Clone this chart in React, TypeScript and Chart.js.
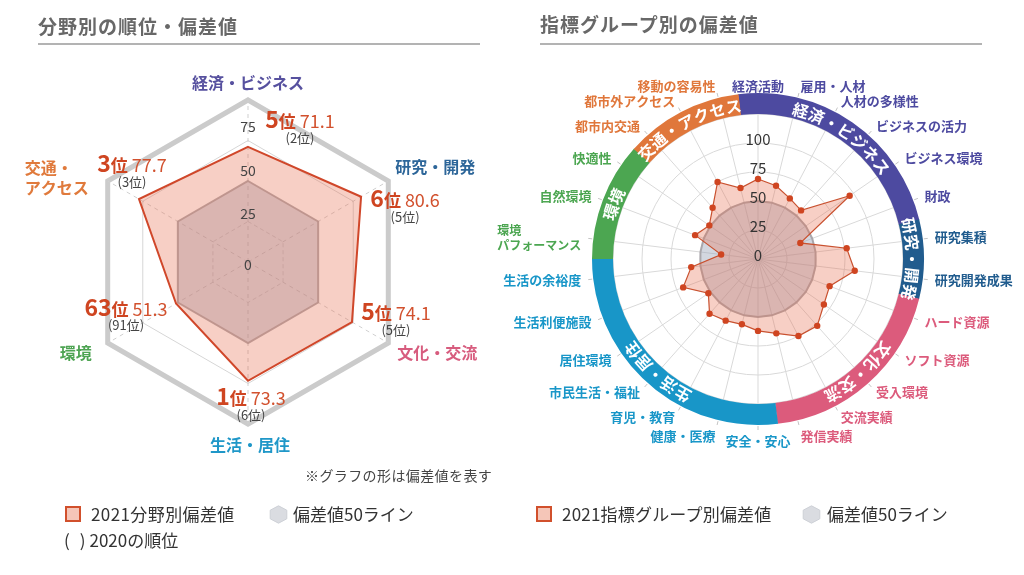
import React, { useEffect, useRef } from 'react';
import { Chart, registerables } from 'chart.js';

Chart.register(...registerables);

const FONT = '"Noto Sans CJK JP", "Noto Sans", sans-serif';

// ---------- Left chart: 分野別 ----------
const fieldCategories = ['経済・ビジネス', '研究・開発', '文化・交流', '生活・居住', '環境', '交通・アクセス'];
const fieldCategoryLines = [['経済・ビジネス'], ['研究・開発'], ['文化・交流'], ['生活・居住'], ['環境'], ['交通・', 'アクセス']];
const fieldValues2021 = [71.1, 80.6, 74.1, 73.3, 51.3, 77.7];
const fieldRanks2021 = [5, 6, 5, 1, 63, 3];
const fieldRanks2020 = [2, 5, 5, 6, 91, 3];
const fieldBaseline50 = [50, 50, 50, 50, 50, 50];
const fieldTickLabels = [0, 25, 50, 75];
const fieldLabelColors = ['#57519f', '#2d6699', '#d75c7e', '#1f97c8', '#4ea453', '#e07a3c'];

// ---------- Right chart: 指標グループ別 ----------
const indicatorLabels = [
  '経済活動', '雇用・人材', '人材の多様性', 'ビジネスの活力', 'ビジネス環境', '財政',
  '研究集積', '研究開発成果',
  'ハード資源', 'ソフト資源', '受入環境', '交流実績', '発信実績',
  '安全・安心', '健康・医療', '育児・教育', '市民生活・福祉', '居住環境', '生活利便施設', '生活の余裕度',
  '環境\nパフォーマンス', '自然環境', '快適性',
  '都市内交通', '都市外アクセス', '移動の容易性',
];
const indicatorValues2021 = [69, 65, 59, 56, 96, 39, 77, 84, 66, 69, 77, 75, 66, 62, 58, 60, 63, 52, 69, 58, 32, 58, 51, 59, 75, 63];
const indicatorBaseline50 = [50, 50, 50, 50, 50, 50, 50, 50, 50, 50, 50, 50, 50, 50, 50, 50, 50, 50, 50, 50, 50, 50, 50, 50, 50, 50];
const indicatorTickLabels = [0, 25, 50, 75, 100];
const groupNames = ['経済・ビジネス', '研究・開発', '文化・交流', '生活・居住', '環境', '交通・アクセス'];
const groupFirstIndex = [0, 6, 8, 13, 20, 23];
const groupLastIndex = [5, 7, 12, 19, 22, 25];
const groupColors = ['#4d4aa0', '#215c8e', '#dc5b7c', '#1896c8', '#4ca651', '#e0773b'];

const SALMON_FILL = 'rgba(232,108,80,0.33)';
const GREY_FILL = 'rgba(150,160,182,0.42)';
const GREY_BORDER = 'rgba(165,162,166,0.9)';
const RED = '#cf4521';

// layout offsets (pixels) for left annotations
const fieldLabelOffsets = [[0, -17], [47, -14], [49, 10], [2, 21], [-32, 10], [-83, -13]];
const rankOffsets = [[52, -27], [44, 2], [44, -10], [3, 16], [-50, 4], [-7, -35]];
const fieldTickLift = [-3, 8, 10, 14];

const leftOverlay = {
  id: 'leftOverlay',
  afterDatasetsDraw(chart: any) {
    const ctx = chart.ctx as CanvasRenderingContext2D;
    const r = chart.scales.r;
    const cx = r.xCenter;
    const cy = r.yCenter;
    ctx.save();
    ctx.font = `14px ${FONT}`;
    ctx.fillStyle = '#444';
    ctx.textAlign = 'center';
    ctx.textBaseline = 'middle';
    fieldTickLabels.forEach((v, k) => {
      const d = r.getDistanceFromCenterForValue(v);
      ctx.fillText(String(v), cx, cy - d - fieldTickLift[k]);
    });
    ctx.font = `bold 16px ${FONT}`;
    fieldCategories.forEach((_, i) => {
      const p = r.getPointPosition(i, r.drawingArea);
      const [dx, dy] = fieldLabelOffsets[i];
      ctx.fillStyle = fieldLabelColors[i];
      const lines = fieldCategoryLines[i];
      if (lines.length === 1) {
        ctx.textAlign = 'center';
        ctx.fillText(lines[0], p.x + dx, p.y + dy);
      } else {
        ctx.textAlign = 'left';
        lines.forEach((ln, k) => ctx.fillText(ln, p.x + dx, p.y + dy + k * 20));
      }
    });
    fieldValues2021.forEach((v, i) => {
      const p = r.getPointPositionForValue(i, v);
      const mx = p.x + rankOffsets[i][0];
      const my = p.y + rankOffsets[i][1];
      const t1 = String(fieldRanks2021[i]);
      const t2 = '位';
      const t3 = v.toFixed(1);
      const f1 = `bold 23px ${FONT}`;
      const f2 = `bold 17px ${FONT}`;
      const f3 = `18px ${FONT}`;
      ctx.font = f1; const w1 = ctx.measureText(t1).width;
      ctx.font = f2; const w2 = ctx.measureText(t2).width;
      ctx.font = f3; const w3 = ctx.measureText(t3).width;
      const gap = 4;
      let x = mx - (w1 + w2 + gap + w3) / 2;
      const base = my + 8;
      ctx.textAlign = 'left';
      ctx.textBaseline = 'alphabetic';
      ctx.fillStyle = RED;
      ctx.font = f1; ctx.fillText(t1, x, base); x += w1;
      ctx.font = f2; ctx.fillText(t2, x, base); x += w2 + gap;
      ctx.fillStyle = '#d2512e';
      ctx.font = f3; ctx.fillText(t3, x, base);
      ctx.textAlign = 'center';
      ctx.textBaseline = 'middle';
      ctx.fillStyle = '#444';
      ctx.font = `13px ${FONT}`;
      ctx.fillText(`(${fieldRanks2020[i]}位)`, mx, my + 18);
    });
    ctx.restore();
  },
};

const groupOf = (i: number) => groupFirstIndex.findIndex((f, k) => i >= f && i <= groupLastIndex[k]);

const rightOverlay = {
  id: 'rightOverlay',
  afterDatasetsDraw(chart: any) {
    const ctx = chart.ctx as CanvasRenderingContext2D;
    const r = chart.scales.r;
    const cx = r.xCenter;
    const cy = r.yCenter;
    const da = r.drawingArea;
    const n = indicatorLabels.length;
    const step = (Math.PI * 2) / n;
    const bandW = 21;
    const rb = da + bandW / 2;
    ctx.save();
    groupNames.forEach((name, k) => {
      const a0 = groupFirstIndex[k] * step - step / 2;
      const a1 = groupLastIndex[k] * step + step / 2;
      ctx.beginPath();
      ctx.lineWidth = bandW;
      ctx.strokeStyle = groupColors[k];
      ctx.arc(cx, cy, rb, a0 - Math.PI / 2, a1 - Math.PI / 2 + 0.003);
      ctx.stroke();
    });
    ctx.font = `bold 16px ${FONT}`;
    ctx.fillStyle = '#ffffff';
    ctx.textAlign = 'center';
    ctx.textBaseline = 'middle';
    groupNames.forEach((name, k) => {
      const a0 = groupFirstIndex[k] * step - step / 2;
      const a1 = groupLastIndex[k] * step + step / 2;
      const mid = (a0 + a1) / 2;
      const chars = Array.from(name);
      const spacing = 0.8;
      const widths = chars.map((c) => ctx.measureText(c).width + spacing);
      const total = widths.reduce((s, w) => s + w, 0);
      let acc = 0;
      const start = mid - total / 2 / rb;
      chars.forEach((c, j) => {
        const a = start + (acc + widths[j] / 2) / rb;
        acc += widths[j];
        ctx.save();
        ctx.translate(cx + Math.sin(a) * rb, cy - Math.cos(a) * rb);
        ctx.rotate(a);
        ctx.fillText(c, 0, 1);
        ctx.restore();
      });
    });
    indicatorLabels.forEach((label, i) => {
      const a = r.getIndexAngle(i);
      const s = Math.sin(a);
      const c = Math.cos(a);
      const t0 = r.getPointPosition(i, da + bandW + 1);
      const t1 = r.getPointPosition(i, da + bandW + 5);
      ctx.beginPath();
      ctx.lineWidth = 1;
      ctx.strokeStyle = '#c4c4c4';
      ctx.moveTo(t0.x, t0.y);
      ctx.lineTo(t1.x, t1.y);
      ctx.stroke();
      const p = r.getPointPosition(i, da + 33);
      const lines = label.split('\n');
      ctx.font = `bold ${lines.length > 1 ? 12 : 13}px ${FONT}`;
      ctx.fillStyle = groupColors[groupOf(i)];
      ctx.textBaseline = 'middle';
      let y = p.y;
      if (Math.abs(s) < 0.05 && c > 0) y += 5;
      if (c < -0.9) y += 4;
      if (lines.length === 1) {
        ctx.textAlign = Math.abs(s) < 0.05 ? 'center' : s > 0 ? 'left' : 'right';
        ctx.fillText(label, p.x, y);
      } else {
        const maxW = Math.max(...lines.map((l) => ctx.measureText(l).width));
        const left = s > 0 ? p.x : p.x - maxW;
        ctx.textAlign = 'left';
        lines.forEach((l, k) => ctx.fillText(l, left, y - ((lines.length - 1) * 15) / 2 + k * 15));
      }
    });
    ctx.font = `15px ${FONT}`;
    ctx.fillStyle = '#333';
    ctx.textAlign = 'center';
    ctx.textBaseline = 'middle';
    indicatorTickLabels.forEach((v) => {
      const d = r.getDistanceFromCenterForValue(v);
      ctx.fillText(String(v), cx, cy - d - 4);
    });
    ctx.restore();
  },
};

function Txt(props: { x: number; y: number; size: number; color?: string; bold?: boolean; spacing?: number; children: any }) {
  const { x, y, size, color = '#333', bold = false, spacing = 0, children } = props;
  const lh = Math.round(size * 1.4);
  return (
    <div
      style={{
        position: 'absolute',
        left: x,
        top: y - lh / 2,
        fontSize: size,
        lineHeight: `${lh}px`,
        color,
        fontWeight: bold ? 700 : 400,
        letterSpacing: spacing,
        whiteSpace: 'pre',
        fontFamily: FONT,
      }}
    >
      {children}
    </div>
  );
}

function Hex(props: { x: number; y: number }) {
  return (
    <svg style={{ position: 'absolute', left: props.x, top: props.y }} width={19} height={19} viewBox="0 0 19 19">
      <polygon points="9.5,0.8 17.8,5.2 17.8,13.8 9.5,18.2 1.2,13.8 1.2,5.2" fill="#dadce1" stroke="#cdd0d6" strokeWidth={1} />
    </svg>
  );
}

function Square(props: { x: number; y: number }) {
  return (
    <div
      style={{
        position: 'absolute',
        left: props.x,
        top: props.y,
        width: 16,
        height: 16,
        boxSizing: 'border-box',
        background: '#f5c6b8',
        border: '2px solid #d1502c',
      }}
    />
  );
}

export default function App() {
  const leftRef = useRef<HTMLCanvasElement | null>(null);
  const rightRef = useRef<HTMLCanvasElement | null>(null);

  useEffect(() => {
    if (!leftRef.current || !rightRef.current) return;
    const left = new Chart(leftRef.current, {
      type: 'radar',
      data: {
        labels: fieldCategories,
        datasets: [
          {
            label: '2021分野別偏差値',
            data: fieldValues2021,
            backgroundColor: SALMON_FILL,
            borderColor: '#d0472a',
            borderWidth: 2,
            pointRadius: 0,
            fill: true,
          },
          {
            label: '偏差値50ライン',
            data: fieldBaseline50,
            backgroundColor: GREY_FILL,
            borderColor: GREY_BORDER,
            borderWidth: 2,
            pointRadius: 0,
            fill: true,
          },
        ],
      },
      options: {
        responsive: false,
        animation: false,
        layout: { padding: { left: 86, right: 102, top: 100, bottom: 151 } },
        plugins: { legend: { display: false }, tooltip: { enabled: false } },
        elements: { line: { tension: 0 } },
        scales: {
          r: {
            min: 0,
            max: 100,
            ticks: { display: false, stepSize: 25 },
            pointLabels: { display: false },
            grid: {
              color: (c: any) => (c.tick && c.tick.value === 100 ? '#cbcbcb' : c.tick && c.tick.value === 50 ? 'rgba(0,0,0,0)' : '#d6d6d6'),
              lineWidth: (c: any) => (c.tick && c.tick.value === 100 ? 5 : 1),
            },
            border: { dash: (c: any) => (c.tick && c.tick.value === 25 ? [4, 3] : []) },
            angleLines: { color: '#d0d0d0', lineWidth: 1, borderDash: [4, 4] },
          },
        },
      } as any,
      plugins: [leftOverlay],
    });

    const right = new Chart(rightRef.current, {
      type: 'radar',
      data: {
        labels: indicatorLabels,
        datasets: [
          {
            label: '2021指標グループ別偏差値',
            data: indicatorValues2021,
            backgroundColor: SALMON_FILL,
            borderColor: '#c9512f',
            borderWidth: 1.2,
            pointRadius: 3.2,
            pointBackgroundColor: RED,
            pointBorderWidth: 0,
            fill: true,
          },
          {
            label: '偏差値50ライン',
            data: indicatorBaseline50,
            backgroundColor: GREY_FILL,
            borderColor: GREY_BORDER,
            borderWidth: 2,
            pointRadius: 0,
            fill: true,
          },
        ],
      },
      options: {
        responsive: false,
        animation: false,
        layout: { padding: { left: 143, right: 121, top: 114, bottom: 171 } },
        plugins: { legend: { display: false }, tooltip: { enabled: false } },
        scales: {
          r: {
            min: 0,
            max: 125,
            ticks: { display: false, stepSize: 25 },
            pointLabels: { display: false },
            grid: { circular: true, color: '#d9d9d9', lineWidth: 1 },
            angleLines: { color: '#d9d9d9', lineWidth: 1 },
          },
        },
      } as any,
      plugins: [rightOverlay],
    });

    return () => {
      left.destroy();
      right.destroy();
    };
  }, []);

  return (
    <div style={{ position: 'absolute', left: 0, top: 0, width: 1024, height: 575, background: '#fff', overflow: 'hidden', fontFamily: FONT }}>
      <canvas ref={leftRef} width={512} height={575} style={{ position: 'absolute', left: 0, top: 0 }} />
      <canvas ref={rightRef} width={554} height={575} style={{ position: 'absolute', left: 470, top: 0 }} />

      <Txt x={38} y={25} size={19} color="#686868" bold spacing={1}>分野別の順位・偏差値</Txt>
      <div style={{ position: 'absolute', left: 38, top: 43, width: 442, height: 2, background: '#b3b3b3' }} />
      <Txt x={540} y={23} size={19} color="#686868" bold spacing={1}>指標グループ別の偏差値</Txt>
      <div style={{ position: 'absolute', left: 540, top: 43, width: 442, height: 2, background: '#b3b3b3' }} />

      <Txt x={305} y={475} size={14} color="#444" spacing={0.4}>※グラフの形は偏差値を表す</Txt>

      <Square x={65} y={506} />
      <Txt x={91} y={514} size={17} color="#333" spacing={0.4}>2021分野別偏差値</Txt>
      <Hex x={269} y={505} />
      <Txt x={293} y={514} size={17} color="#333">偏差値50ライン</Txt>
      <Txt x={64} y={540} size={17} color="#333">
        (<span style={{ display: 'inline-block', width: 10 }} />)<span style={{ display: 'inline-block', width: 4 }} />2020の順位
      </Txt>

      <Square x={536} y={506} />
      <Txt x={562} y={514} size={17} color="#333" spacing={0.2}>2021指標グループ別偏差値</Txt>
      <Hex x={802} y={505} />
      <Txt x={827} y={514} size={17} color="#333">偏差値50ライン</Txt>
    </div>
  );
}
